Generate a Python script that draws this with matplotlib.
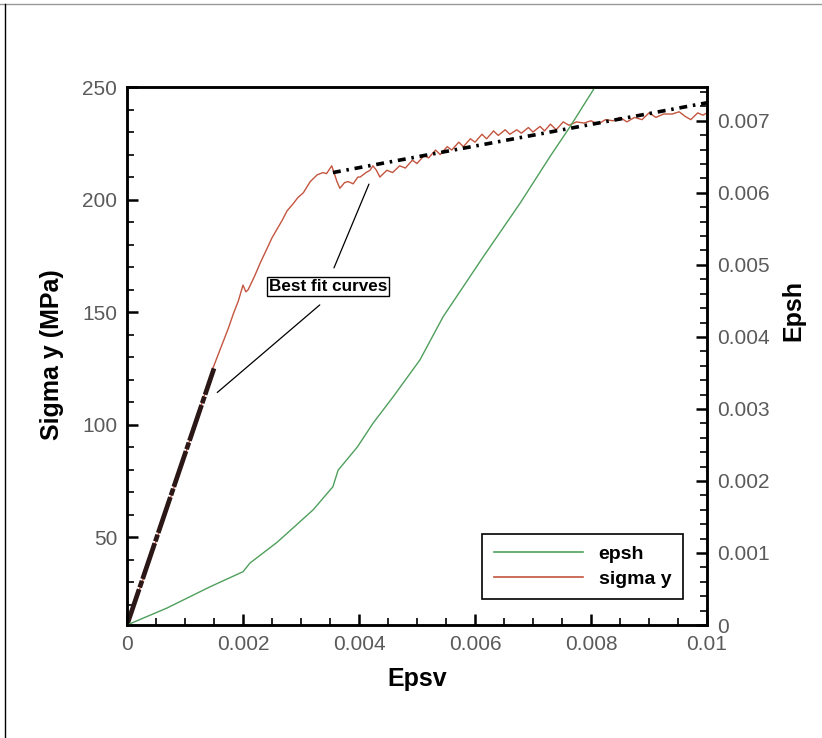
import matplotlib
matplotlib.use("Agg")
import matplotlib.pyplot as plt
from matplotlib.lines import Line2D
from matplotlib.ticker import MultipleLocator

plt.rcParams['font.family'] = ['Liberation Sans', 'DejaVu Sans']
plt.rcParams['font.size'] = 15

# sigma y vs epsv (left axis, MPa)
sig_x = [0, 0.0003, 0.0006, 0.0009, 0.0012, 0.00148, 0.00157, 0.00166, 0.00175,
         0.00183, 0.00192, 0.0020, 0.00205, 0.00209, 0.0022, 0.0023, 0.00241,
         0.0025, 0.00259, 0.00268, 0.00276, 0.00286, 0.00295, 0.00304, 0.00316,
         0.00328, 0.00338, 0.00344, 0.00353, 0.00362, 0.00367, 0.00375, 0.00381,
         0.0039, 0.00398, 0.00402, 0.00412, 0.00419, 0.00424, 0.0043, 0.00436,
         0.00448, 0.00458, 0.0047, 0.0048, 0.00492, 0.005, 0.00512, 0.0052,
         0.00532, 0.0054, 0.00552, 0.0056, 0.00572, 0.0058, 0.00592, 0.006,
         0.00612, 0.0062, 0.00632, 0.0064, 0.00652, 0.0066, 0.00672, 0.0068,
         0.00692, 0.007, 0.00712, 0.0072, 0.0073, 0.0074, 0.00752, 0.00762,
         0.00775, 0.00788, 0.008, 0.00812, 0.00825, 0.00838, 0.0085, 0.00862,
         0.00875, 0.00888, 0.009, 0.00912, 0.00925, 0.0094, 0.00952, 0.00962,
         0.00972, 0.00984, 0.00993, 0.01]
sig_y = [11, 33, 56, 79, 102, 125, 131, 137, 143,
         149, 155, 162, 159, 160, 166, 172, 178,
         183, 187, 191, 195, 198, 201, 203, 208,
         211, 212, 211.5, 215, 208, 205, 207.5, 208,
         207, 210, 210, 212, 213, 215, 213, 210,
         213, 212, 215, 214, 217.5, 216, 219.5, 218.5,
         222, 220, 223.5, 222, 225.5, 223.5, 227, 225.5,
         229, 227, 230.5, 228.5, 231, 229, 231, 229.5,
         232, 230, 232.5, 230.5, 233.5, 231, 234.5, 233,
         234.5, 234, 235, 233.5, 235.5, 235, 236.5, 234.5,
         236.5, 235.5, 238.5, 236.5, 238, 238, 239, 237,
         235.5, 238.5, 237.5, 238.5]

# epsh vs epsv (right axis)
eps_x = [0, 0.00069, 0.00143, 0.0020, 0.00212, 0.00259, 0.00321, 0.00355,
         0.00364, 0.00397, 0.00424, 0.00459, 0.00505, 0.00545, 0.00614,
         0.00678, 0.00729, 0.00764, 0.00807, 0.0085]
eps_y = [0, 0.000236, 0.00053, 0.00074, 0.00086, 0.00115, 0.0016, 0.00192,
         0.00215, 0.00247, 0.0028, 0.00317, 0.00368, 0.00428, 0.00511,
         0.00586, 0.0065, 0.00692, 0.00747, 0.0081]

# best fit lines (elastic and hardening parts)
fit1_x = [0, 0.0015]
fit1_y = [11, 125]
fit2_x = [0.00355, 0.01]
fit2_y = [212, 243]

red = '#c4553f'
green = '#4f9f5c'

fig = plt.figure(figsize=(8.22, 7.38), dpi=100)
ax = fig.add_axes([0.1545, 0.1531, 0.7056, 0.729])
ax2 = ax.twinx()

ax.plot(sig_x, sig_y, color=red, lw=1.0)
ax.plot(fit1_x, fit1_y, color='#2b1715', lw=3.4, dashes=(8, 0.4, 1.5, 0.4))
ax.plot(fit2_x, fit2_y, color='black', lw=2.6, dashes=(2.2, 1.6, 0.7, 1.6))
ax2.plot(eps_x, eps_y, color=green, lw=1.0)

ax.set_xlim(0, 0.01)
ax.set_ylim(11, 250)
ax2.set_ylim(0, 0.00747)

ax.xaxis.set_major_locator(MultipleLocator(0.002))
ax.xaxis.set_minor_locator(MultipleLocator(0.0005))
ax.yaxis.set_major_locator(MultipleLocator(50))
ax.yaxis.set_minor_locator(MultipleLocator(10))
ax2.yaxis.set_major_locator(MultipleLocator(0.001))
ax2.yaxis.set_minor_locator(MultipleLocator(0.0002))

ax.set_xticks([0, 0.002, 0.004, 0.006, 0.008, 0.01])
ax.set_xticklabels(['0', '0.002', '0.004', '0.006', '0.008', '0.01'])
ax.set_yticks([50, 100, 150, 200, 250])
ax2.set_yticks([0, 0.001, 0.002, 0.003, 0.004, 0.005, 0.006, 0.007])
ax2.set_yticklabels(['0', '0.001', '0.002', '0.003', '0.004', '0.005', '0.006', '0.007'])

for a in (ax, ax2):
    for s in a.spines.values():
        s.set_linewidth(1.8)
    a.tick_params(which='major', direction='in', length=8, width=1.8,
                  labelsize=15, labelcolor='#5a5a5a', pad=7)
    a.tick_params(which='minor', direction='in', length=5, width=1.2)
ax.tick_params(axis='y', which='both', right=False)
ax.tick_params(axis='x', which='both', top=False)

ax.set_xlabel('Epsv', fontsize=18, fontweight='bold')
ax.set_ylabel('Sigma y (MPa)', fontsize=18, fontweight='bold')
ax2.set_ylabel('Epsh', fontsize=18, fontweight='bold')
ax.xaxis.set_label_coords(0.5, -0.078)
ax.yaxis.set_label_coords(-0.108, 0.502)
ax2.yaxis.set_label_coords(1.128, 0.585)

# annotation box with leader lines
ax.text(0.00347, 161.5, 'Best fit curves', fontsize=12.3, fontweight='bold',
        ha='center', va='center',
        bbox=dict(boxstyle='square,pad=0.12', fc='white', ec='black', lw=1.0))
ax.annotate('', xy=(0.00419, 208), xytext=(0.00355, 168.5),
            arrowprops=dict(arrowstyle='-', lw=0.9, color='black'))
ax.annotate('', xy=(0.00152, 113.5), xytext=(0.00336, 154),
            arrowprops=dict(arrowstyle='-', lw=0.9, color='black'))

handles = [Line2D([], [], color=green, lw=1.2), Line2D([], [], color=red, lw=1.2)]
leg = ax2.legend(handles, ['epsh', 'sigma y'], loc='lower right',
                 bbox_to_anchor=(0.9586, 0.048), borderaxespad=0,
                 prop={'weight': 'bold', 'size': 14},
                 handlelength=4.6, handletextpad=0.8, labelspacing=0.35,
                 borderpad=0.6, fancybox=False, framealpha=1, edgecolor='black')
leg.get_frame().set_linewidth(1.2)

# page frame lines
fig.add_artist(Line2D([0, 1], [0.995, 0.995], color='#999999', lw=1.0))
fig.add_artist(Line2D([0.0065, 0.0065], [0, 0.995], color='black', lw=1.0))

fig.savefig('out.png', dpi=100)
